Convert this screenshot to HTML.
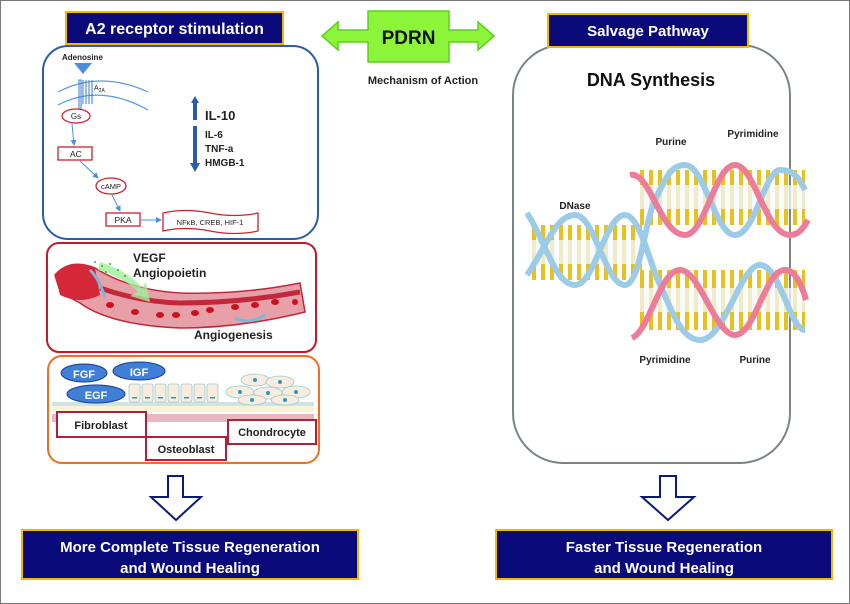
<!DOCTYPE html>
<html><head><meta charset="utf-8"><style>
body{margin:0;background:#fff}
svg{display:block;font-family:"Liberation Sans",sans-serif}
</style></head><body>
<svg width="850" height="604" viewBox="0 0 850 604" xmlns="http://www.w3.org/2000/svg">
<defs>
<marker id="ah" markerWidth="6" markerHeight="6" refX="5" refY="3" orient="auto"><path d="M0,0 L6,3 L0,6z" fill="#4a90e2"/></marker>
<pattern id="rungs" width="9" height="10" patternUnits="userSpaceOnUse"><rect x="1" y="0" width="4" height="10" fill="#e8c020"/></pattern>
</defs>
<rect x="0.5" y="0.5" width="849" height="603" fill="#fff" stroke="#777"/>
<rect x="66" y="12" width="217" height="32" fill="#0a0a7a" stroke="#f2b800" stroke-width="2"/>
<text x="174.5" y="34" font-size="16" font-weight="bold" fill="#fff" text-anchor="middle">A2 receptor stimulation</text>
<path d="M322,36 L338,22 L338,30 L368,30 L368,11 L449,11 L449,30 L478,30 L478,22 L494,36 L478,50 L478,42 L449,42 L449,62 L368,62 L368,42 L338,42 L338,50 Z" fill="#8cf53a" stroke="#5ad01a" stroke-width="1.5"/>
<text x="408.5" y="44" font-size="19" font-weight="bold" fill="#111" text-anchor="middle">PDRN</text>
<text x="423" y="84" font-size="11" font-weight="bold" fill="#222" text-anchor="middle">Mechanism of Action</text>
<rect x="513" y="45" width="277" height="418" rx="50" fill="#fff" stroke="#7a8484" stroke-width="2"/>
<rect x="548" y="14" width="200" height="33" fill="#0a0a7a" stroke="#f2b800" stroke-width="2"/>
<text x="648" y="36" font-size="15" font-weight="bold" fill="#fff" text-anchor="middle">Salvage Pathway</text>
<text x="651" y="86" font-size="18" font-weight="bold" fill="#111" text-anchor="middle">DNA Synthesis</text>

<rect x="43" y="46" width="275" height="193" rx="25" fill="#fff" stroke="#2a5caa" stroke-width="2"/>
<text x="62" y="60" font-size="8" font-weight="bold" fill="#222">Adenosine</text>
<path d="M74,63 L92,63 L83,74Z" fill="#4a8fd8"/>
<path d="M58,92 Q100,70 148,92" fill="none" stroke="#5a9ae0" stroke-width="1.2"/>
<path d="M58,105 Q100,83 148,110" fill="none" stroke="#5a9ae0" stroke-width="1.2"/>
<path d="M79,110 L79,80 L81,80 L81,110 M83,80 L83,104 M86,80 L86,104 M89,80 L89,104 M92,80 L92,104" fill="none" stroke="#3a7ad0" stroke-width="1"/>
<text x="94" y="90" font-size="7" fill="#222">A<tspan font-size="5" dy="2">2A</tspan></text>
<ellipse cx="76" cy="116" rx="14" ry="7" fill="#fff" stroke="#d02030" stroke-width="1.3"/>
<text x="76" y="119" font-size="8" fill="#222" text-anchor="middle">Gs</text>
<line x1="72" y1="124" x2="74" y2="145" stroke="#4a90e2" marker-end="url(#ah)"/>
<rect x="58" y="147" width="34" height="13" fill="#fff" stroke="#d02030" stroke-width="1.3"/>
<text x="70" y="157" font-size="8.5" fill="#222">AC</text>
<line x1="80" y1="161" x2="98" y2="178" stroke="#4a90e2" marker-end="url(#ah)"/>
<ellipse cx="111" cy="186" rx="15" ry="8" fill="#fff" stroke="#d02030" stroke-width="1.3"/>
<text x="111" y="189" font-size="7.5" fill="#222" text-anchor="middle">cAMP</text>
<line x1="112" y1="195" x2="120" y2="211" stroke="#4a90e2" marker-end="url(#ah)"/>
<rect x="106" y="213" width="34" height="13" fill="#fff" stroke="#d02030" stroke-width="1.3"/>
<text x="123" y="223" font-size="8.5" fill="#222" text-anchor="middle">PKA</text>
<line x1="141" y1="220" x2="161" y2="220" stroke="#4a90e2" marker-end="url(#ah)"/>
<path d="M163,213 Q185,208 210,213 Q235,218 258,213 L258,231 Q235,236 210,231 Q185,226 163,231 Z" fill="#fff" stroke="#d02030" stroke-width="1.3"/>
<text x="210" y="225" font-size="7.5" fill="#222" text-anchor="middle">NFκB, CREB, HIF-1</text>
<path d="M195,96 L199,103 L197,103 L197,120 L193,120 L193,103 L191,103Z" fill="#2a5caa"/>
<path d="M193,126 L197,126 L197,163 L200,163 L195,172 L190,163 L193,163Z" fill="#2a5caa"/>
<text x="205" y="120" font-size="13" font-weight="bold" fill="#222">IL-10</text>
<text x="205" y="138" font-size="10" font-weight="bold" fill="#222">IL-6</text>
<text x="205" y="152" font-size="10" font-weight="bold" fill="#222">TNF-a</text>
<text x="205" y="166" font-size="10" font-weight="bold" fill="#222">HMGB-1</text>

<rect x="47" y="243" width="269" height="109" rx="12" fill="#fff" stroke="#c21a2a" stroke-width="2"/>
<path d="M55,275 Q70,258 95,268 Q130,290 180,293 Q240,295 300,283 L305,312 Q240,328 180,328 Q110,325 80,303 Q62,294 58,285Z" fill="#e8a0a8" stroke="#c2283a" stroke-width="1.5"/>
<path d="M55,275 Q70,258 95,268 L100,295 Q80,305 60,295Z" fill="#d42838"/>
<path d="M100,288 Q140,302 180,303 Q240,303 300,292" fill="none" stroke="#c2283a" stroke-width="5"/>
<path d="M90,270 Q100,280 105,298" fill="none" stroke="#7ab8d8" stroke-width="3"/>
<path d="M235,318 Q250,325 265,315" fill="none" stroke="#7ab8d8" stroke-width="3"/>
<g fill="#cc1020"><ellipse cx="110" cy="305" rx="4" ry="3"/><ellipse cx="135" cy="312" rx="4" ry="3"/><ellipse cx="160" cy="315" rx="4" ry="3"/><ellipse cx="176" cy="315" rx="4" ry="3"/><ellipse cx="195" cy="313" rx="4" ry="3"/><ellipse cx="210" cy="310" rx="4" ry="3"/><ellipse cx="235" cy="307" rx="4" ry="3"/><ellipse cx="255" cy="305" rx="4" ry="3"/><ellipse cx="275" cy="302" rx="4" ry="3"/><ellipse cx="295" cy="302" rx="3" ry="3"/></g>
<path d="M100,262 Q130,272 142,288 L146,282 L150,302 L130,296 L138,292 Q125,278 98,270Z" fill="#9ef09a" opacity="0.8"/>
<g fill="#3cb030"><circle cx="95" cy="262" r="1"/><circle cx="102" cy="266" r="1"/><circle cx="110" cy="264" r="1"/><circle cx="118" cy="270" r="1"/><circle cx="106" cy="272" r="1"/><circle cx="125" cy="276" r="1"/></g>
<text x="133" y="262" font-size="12" font-weight="bold" fill="#222">VEGF</text>
<text x="133" y="277" font-size="12" font-weight="bold" fill="#222">Angiopoietin</text>
<text x="194" y="339" font-size="12" font-weight="bold" fill="#222">Angiogenesis</text>

<rect x="48" y="356" width="271" height="107" rx="14" fill="#fff" stroke="#f07020" stroke-width="2"/>
<rect x="52" y="402" width="262" height="4" fill="#cfe3e0"/>
<rect x="52" y="406" width="262" height="6" fill="#fbf3d8"/>
<rect x="52" y="414" width="262" height="8" fill="#e8b8c0"/>
<g fill="#f8ece0" stroke="#9cc" stroke-width="0.8">
<rect x="129" y="384" width="11" height="18" rx="2"/><rect x="142" y="384" width="11" height="18" rx="2"/><rect x="155" y="384" width="11" height="18" rx="2"/><rect x="168" y="384" width="11" height="18" rx="2"/><rect x="181" y="384" width="11" height="18" rx="2"/><rect x="194" y="384" width="11" height="18" rx="2"/><rect x="207" y="384" width="11" height="18" rx="2"/>
<ellipse cx="255" cy="380" rx="14" ry="6"/><ellipse cx="280" cy="382" rx="14" ry="6"/><ellipse cx="240" cy="392" rx="14" ry="6"/><ellipse cx="268" cy="393" rx="14" ry="6"/><ellipse cx="296" cy="392" rx="14" ry="6"/><ellipse cx="252" cy="400" rx="14" ry="5"/><ellipse cx="285" cy="400" rx="14" ry="5"/>
</g>
<g fill="#2a9ab8"><circle cx="255" cy="380" r="2"/><circle cx="280" cy="382" r="2"/><circle cx="240" cy="392" r="2"/><circle cx="268" cy="393" r="2"/><circle cx="296" cy="392" r="2"/><circle cx="252" cy="400" r="2"/><circle cx="285" cy="400" r="2"/>
<rect x="132" y="397" width="5" height="1.5"/><rect x="145" y="397" width="5" height="1.5"/><rect x="158" y="397" width="5" height="1.5"/><rect x="171" y="397" width="5" height="1.5"/><rect x="184" y="397" width="5" height="1.5"/><rect x="197" y="397" width="5" height="1.5"/><rect x="210" y="397" width="5" height="1.5"/></g>
<g fill="#3f7fd8" stroke="#1a3f90" stroke-width="1">
<ellipse cx="84" cy="373" rx="23" ry="9"/><ellipse cx="139" cy="371" rx="26" ry="9"/><ellipse cx="96" cy="394" rx="29" ry="9"/></g>
<text x="84" y="378" font-size="11" font-weight="bold" fill="#fff" text-anchor="middle">FGF</text>
<text x="139" y="376" font-size="11" font-weight="bold" fill="#fff" text-anchor="middle">IGF</text>
<text x="96" y="399" font-size="11" font-weight="bold" fill="#fff" text-anchor="middle">EGF</text>
<rect x="57" y="412" width="89" height="25" fill="#fff" stroke="#b0203a" stroke-width="2"/>
<text x="101" y="429" font-size="11" font-weight="bold" fill="#222" text-anchor="middle">Fibroblast</text>
<rect x="146" y="437" width="80" height="23" fill="#fff" stroke="#b0203a" stroke-width="2"/>
<text x="186" y="453" font-size="11" font-weight="bold" fill="#222" text-anchor="middle">Osteoblast</text>
<rect x="228" y="420" width="88" height="24" fill="#fff" stroke="#b0203a" stroke-width="2"/>
<text x="272" y="436" font-size="11" font-weight="bold" fill="#222" text-anchor="middle">Chondrocyte</text>

<g>
<rect x="530" y="225" width="112" height="55" fill="url(#rungs)"/>
<rect x="640" y="170" width="165" height="55" fill="url(#rungs)"/>
<rect x="640" y="270" width="165" height="60" fill="url(#rungs)"/>
<rect x="528" y="240" width="115" height="24" fill="#f4f9fc" opacity="0.75"/>
<rect x="640" y="185" width="165" height="24" fill="#f4f9fc" opacity="0.75"/>
<rect x="640" y="288" width="165" height="24" fill="#f4f9fc" opacity="0.75"/>
<path d="M527,213 C545,240 555,285 575,285 C595,285 605,215 625,215 C640,215 650,265 660,285 C670,305 680,340 700,340 C725,340 740,265 760,265 C780,265 790,330 805,330" fill="none" stroke="#9ccbe8" stroke-width="6"/>
<path d="M527,275 C545,250 555,215 575,215 C595,215 605,285 625,285 C640,285 645,220 655,200 C665,180 670,165 685,165 C705,165 715,235 735,235 C755,235 765,170 780,170 C795,170 800,180 805,190" fill="none" stroke="#9ccbe8" stroke-width="6"/>
<path d="M630,175 C650,170 660,235 685,235 C705,235 715,165 735,165 C755,165 765,235 790,235 C800,235 805,225 808,220" fill="none" stroke="#ec7c98" stroke-width="6"/>
<path d="M632,338 C650,330 660,270 680,270 C700,270 715,335 735,335 C755,335 765,270 785,270 C795,270 802,285 806,300" fill="none" stroke="#ec7c98" stroke-width="6"/>
</g>
<text x="575" y="209" font-size="10" font-weight="bold" fill="#222" text-anchor="middle">DNase</text>
<text x="671" y="145" font-size="10" font-weight="bold" fill="#222" text-anchor="middle">Purine</text>
<text x="753" y="137" font-size="10" font-weight="bold" fill="#222" text-anchor="middle">Pyrimidine</text>
<text x="665" y="363" font-size="10" font-weight="bold" fill="#222" text-anchor="middle">Pyrimidine</text>
<text x="755" y="363" font-size="10" font-weight="bold" fill="#222" text-anchor="middle">Purine</text>

<path d="M168,476 L183,476 L183,497 L201,497 L176,520 L151,497 L168,497Z" fill="#fff" stroke="#0a1a7a" stroke-width="2"/>
<path d="M660,476 L676,476 L676,497 L694,497 L668,520 L642,497 L660,497Z" fill="#fff" stroke="#0a1a7a" stroke-width="2"/>

<rect x="22" y="530" width="336" height="49" fill="#0a0a7a" stroke="#f2b800" stroke-width="2"/>
<text x="190" y="552" font-size="15" font-weight="bold" fill="#fff" text-anchor="middle">More Complete Tissue Regeneration</text>
<text x="190" y="573" font-size="15" font-weight="bold" fill="#fff" text-anchor="middle">and Wound Healing</text>
<rect x="496" y="530" width="336" height="49" fill="#0a0a7a" stroke="#f2b800" stroke-width="2"/>
<text x="664" y="552" font-size="15" font-weight="bold" fill="#fff" text-anchor="middle">Faster Tissue Regeneration</text>
<text x="664" y="573" font-size="15" font-weight="bold" fill="#fff" text-anchor="middle">and Wound Healing</text>
</svg>
</body></html>
